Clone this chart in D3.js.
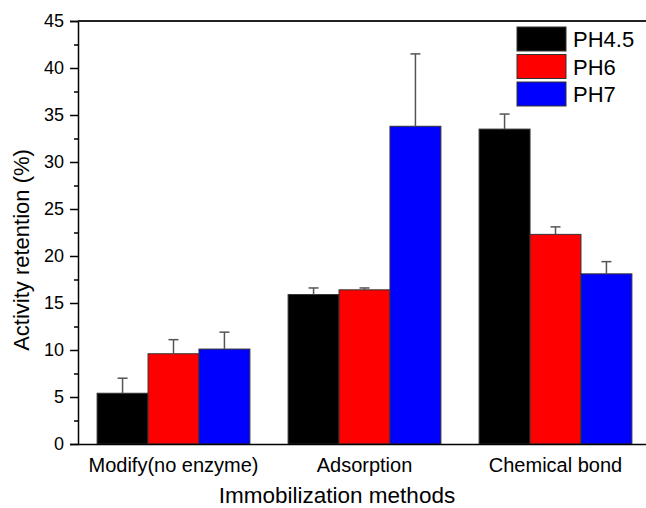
<!DOCTYPE html>
<html>
<head>
<meta charset="utf-8">
<script src="https://cdn.jsdelivr.net/npm/d3@7"></script>
<style>
  body { margin: 0; background: #fff; }
  text { font-family: "Liberation Sans", Arial, sans-serif; fill: #000; }
</style>
</head>
<body>
<script>
// data
var methods = ["Modify(no enzyme)", "Adsorption", "Chemical bond"];
var series = ["PH4.5", "PH6", "PH7"];
var colors = ["#000000", "#ff0000", "#0000ff"];
var ph45 = [5.4, 15.9, 33.5];
var ph6 = [9.6, 16.4, 22.3];
var ph7 = [10.1, 33.8, 18.1];
var ph45Err = [1.6, 0.7, 1.6];
var ph6Err = [1.5, 0.2, 0.8];
var ph7Err = [1.8, 7.7, 1.3];
var yTicks = [0, 5, 10, 15, 20, 25, 30, 35, 40, 45];

var values = [ph45, ph6, ph7];
var errors = [ph45Err, ph6Err, ph7Err];

var width = 646, height = 508;
var plotLeft = 78, plotTop = 21, plotBottom = 444, plotRight = 651;

var svg = d3.select("body").append("svg")
  .attr("width", width)
  .attr("height", height);

var x0 = d3.scaleBand().domain(methods).range([plotLeft, plotRight]).paddingInner(0.2).paddingOuter(0.1);
var x1 = d3.scaleBand().domain(series).range([0, x0.bandwidth()]);
var y = d3.scaleLinear().domain([0, 45]).range([plotBottom, plotTop]);

// bars
var rows = [];
methods.forEach(function(m, i) {
  series.forEach(function(s, j) {
    rows.push({ m: m, s: s, j: j, v: values[j][i], e: errors[j][i] });
  });
});

svg.selectAll("rect.bar")
  .data(rows)
  .enter()
  .append("rect")
  .attr("class", "bar")
  .attr("x", function(d) { return x0(d.m) + x1(d.s); })
  .attr("y", function(d) { return y(d.v); })
  .attr("width", x1.bandwidth())
  .attr("height", function(d) { return y(0) - y(d.v); })
  .style("fill", function(d) { return colors[d.j]; })
  .style("stroke", "#333")
  .style("stroke-width", 1);

// error bars (upper only)
var err = svg.selectAll("g.err")
  .data(rows)
  .enter()
  .append("g")
  .attr("class", "err")
  .style("stroke", "#555")
  .style("stroke-width", 1.5);

err.append("line")
  .attr("x1", function(d) { return x0(d.m) + x1(d.s) + x1.bandwidth() / 2; })
  .attr("x2", function(d) { return x0(d.m) + x1(d.s) + x1.bandwidth() / 2; })
  .attr("y1", function(d) { return y(d.v); })
  .attr("y2", function(d) { return y(d.v + d.e); });

err.append("line")
  .attr("x1", function(d) { return x0(d.m) + x1(d.s) + x1.bandwidth() / 2 - 5; })
  .attr("x2", function(d) { return x0(d.m) + x1(d.s) + x1.bandwidth() / 2 + 5; })
  .attr("y1", function(d) { return y(d.v + d.e); })
  .attr("y2", function(d) { return y(d.v + d.e); });

// y axis with minor ticks
var yMinor = d3.axisLeft(y).tickValues(d3.range(2.5, 45, 5)).tickSize(4).tickFormat("");
svg.append("g")
  .attr("transform", "translate(" + plotLeft + ",0)")
  .call(yMinor)
  .call(function(g) { g.select(".domain").remove(); });

var yAxis = d3.axisLeft(y).tickValues(yTicks).tickSize(8).tickPadding(6);
svg.append("g")
  .attr("class", "y-axis")
  .attr("transform", "translate(" + plotLeft + ",0)")
  .call(yAxis)
  .call(function(g) {
    g.selectAll("text").style("font-size", "18px");
  });

// x axis (no tick marks)
var xAxis = d3.axisBottom(x0).tickSize(0).tickPadding(14);
svg.append("g")
  .attr("class", "x-axis")
  .attr("transform", "translate(0," + plotBottom + ")")
  .call(xAxis)
  .call(function(g) {
    g.select(".domain").attr("d", "M" + plotLeft + ",0.5H" + plotRight);
    g.selectAll("text").style("font-size", "20px");
  });

svg.selectAll(".domain, .tick line").style("stroke", "#000").style("stroke-width", 1.5);

// top border
svg.append("line")
  .attr("x1", plotLeft).attr("x2", plotRight)
  .attr("y1", plotTop).attr("y2", plotTop)
  .style("stroke", "#222").style("stroke-width", 2);

// axis titles
svg.append("text")
  .attr("x", 337)
  .attr("y", 503)
  .style("text-anchor", "middle")
  .style("font-size", "22.5px")
  .text("Immobilization methods");

svg.append("text")
  .attr("transform", "translate(29,250) rotate(-90)")
  .style("text-anchor", "middle")
  .style("font-size", "22px")
  .text("Activity retention (%)");

// legend
var legend = svg.selectAll("g.legend")
  .data(series)
  .enter()
  .append("g")
  .attr("class", "legend")
  .attr("transform", function(d, i) { return "translate(517," + (27 + i * 27.5) + ")"; });

legend.append("rect")
  .attr("width", 49)
  .attr("height", 24)
  .style("fill", function(d, i) { return colors[i]; })
  .style("stroke", "#333");

legend.append("text")
  .attr("x", 56)
  .attr("y", 20)
  .style("font-size", "22px")
  .text(function(d) { return d; });
</script>
</body>
</html>
